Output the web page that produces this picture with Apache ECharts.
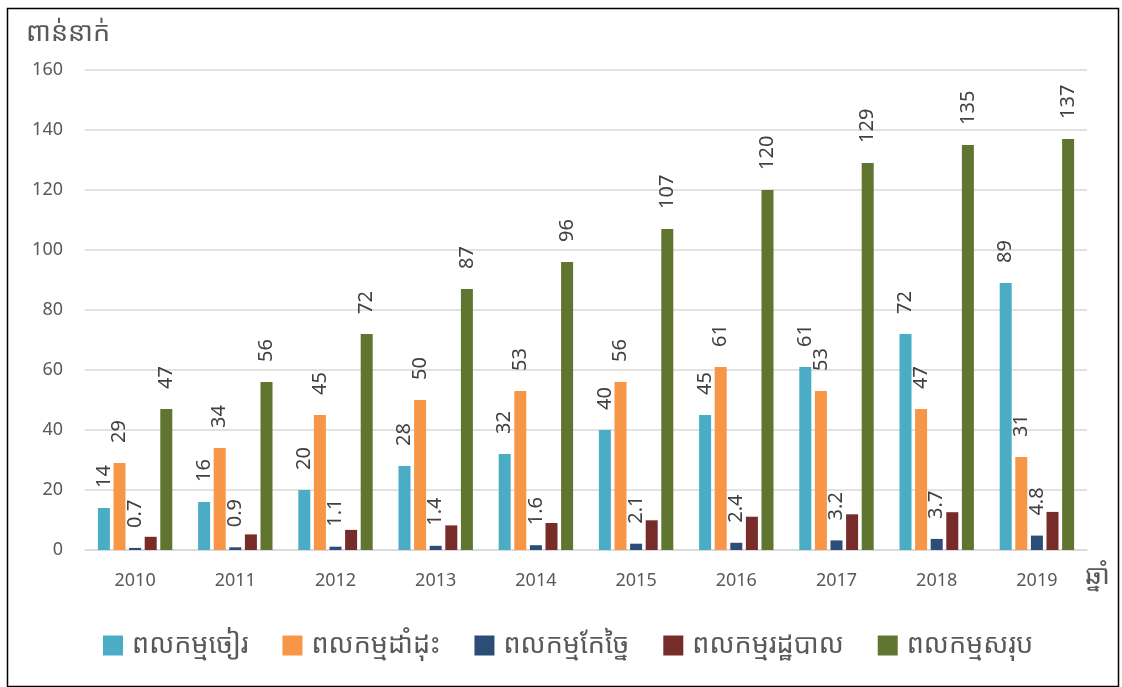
<!DOCTYPE html>
<html>
<head>
<meta charset="utf-8">
<script src="https://cdn.jsdelivr.net/npm/echarts@6/dist/echarts.min.js"></script>
<style>
html,body{margin:0;padding:0;background:#fff;}
#c{width:1122px;height:687px;}
</style>
</head>
<body>
<div id="c"></div>
<script>
var years = ['2010','2011','2012','2013','2014','2015','2016','2017','2018','2019'];
var seriesNames = ['ពលកម្មចៀរ','ពលកម្មដាំដុះ','ពលកម្មកែច្នៃ','ពលកម្មរដ្ឋបាល','ពលកម្មសរុប'];
var s1 = [14, 16, 20, 28, 32, 40, 45, 61, 72, 89];
var s2 = [29, 34, 45, 50, 53, 56, 61, 53, 47, 31];
var s3 = [0.7, 0.9, 1.1, 1.4, 1.6, 2.1, 2.4, 3.2, 3.7, 4.8];
var s4 = [4.4, 5.2, 6.7, 8.2, 9.0, 9.9, 11.1, 11.9, 12.6, 12.7];
var s5 = [47, 56, 72, 87, 96, 107, 120, 129, 135, 137];
var yTicks = [0, 20, 40, 60, 80, 100, 120, 140, 160];
var yName = 'ពាន់នាក់';
var xName = 'ឆ្នាំ';

var colors = ['#4BACC6', '#F79646', '#2C4D75', '#772C2A', '#5F7530'];
var FF = '"Noto Sans Khmer","Khmer OS","Noto Sans","Liberation Sans",sans-serif';
var chart = echarts.init(document.getElementById('c'));
var allData = [s1, s2, s3, s4, s5];
var showLabel = [true, true, true, false, true];

var series = allData.map(function (d, i) {
  return {
    name: seriesNames[i],
    type: 'bar',
    data: d,
    barWidth: 12,
    barGap: '30%',
    itemStyle: { color: colors[i] },
    label: {
      show: showLabel[i],
      position: 'top',
      rotate: 90,
      align: 'left',
      verticalAlign: 'middle',
      distance: 20,
      fontSize: 20,
      color: '#404040',
      fontFamily: FF
    }
  };
});

chart.setOption({
  animation: false,
  color: colors,
  textStyle: { fontFamily: FF },
  grid: { left: 85, right: 35, top: 70, bottom: 137, containLabel: false },
  legend: {
    top: 627,
    left: 98,
    itemWidth: 20,
    itemHeight: 20,
    itemGap: 34,
    icon: 'rect',
    textStyle: { fontSize: 27, color: '#595959', fontFamily: FF, padding: [0, 0, 0, 4] },
    data: seriesNames
  },
  xAxis: {
    type: 'category',
    data: years,
    axisTick: { show: false },
    axisLine: { lineStyle: { color: '#D9D9D9', width: 1.5 } },
    axisLabel: { fontSize: 18, color: '#595959', margin: 22 }
  },
  yAxis: {
    type: 'value',
    min: yTicks[0],
    max: yTicks[yTicks.length - 1],
    interval: 20,
    axisLine: { show: false },
    axisTick: { show: false },
    splitLine: { lineStyle: { color: '#D9D9D9', width: 1.5 } },
    axisLabel: { fontSize: 18, color: '#595959', margin: 22 }
  },
  graphic: [
    { type: 'rect', left: 5, top: 6, shape: { width: 1111, height: 678 },
      style: { fill: 'none', stroke: '#000', lineWidth: 1.5 }, silent: true },
    { type: 'text', left: 26, top: 20,
      style: { text: yName, fill: '#595959', font: '27px ' + FF } },
    { type: 'text', left: 1085, top: 563,
      style: { text: xName, fill: '#595959', font: '27px ' + FF } }
  ],
  series: series
});
</script>
</body>
</html>
